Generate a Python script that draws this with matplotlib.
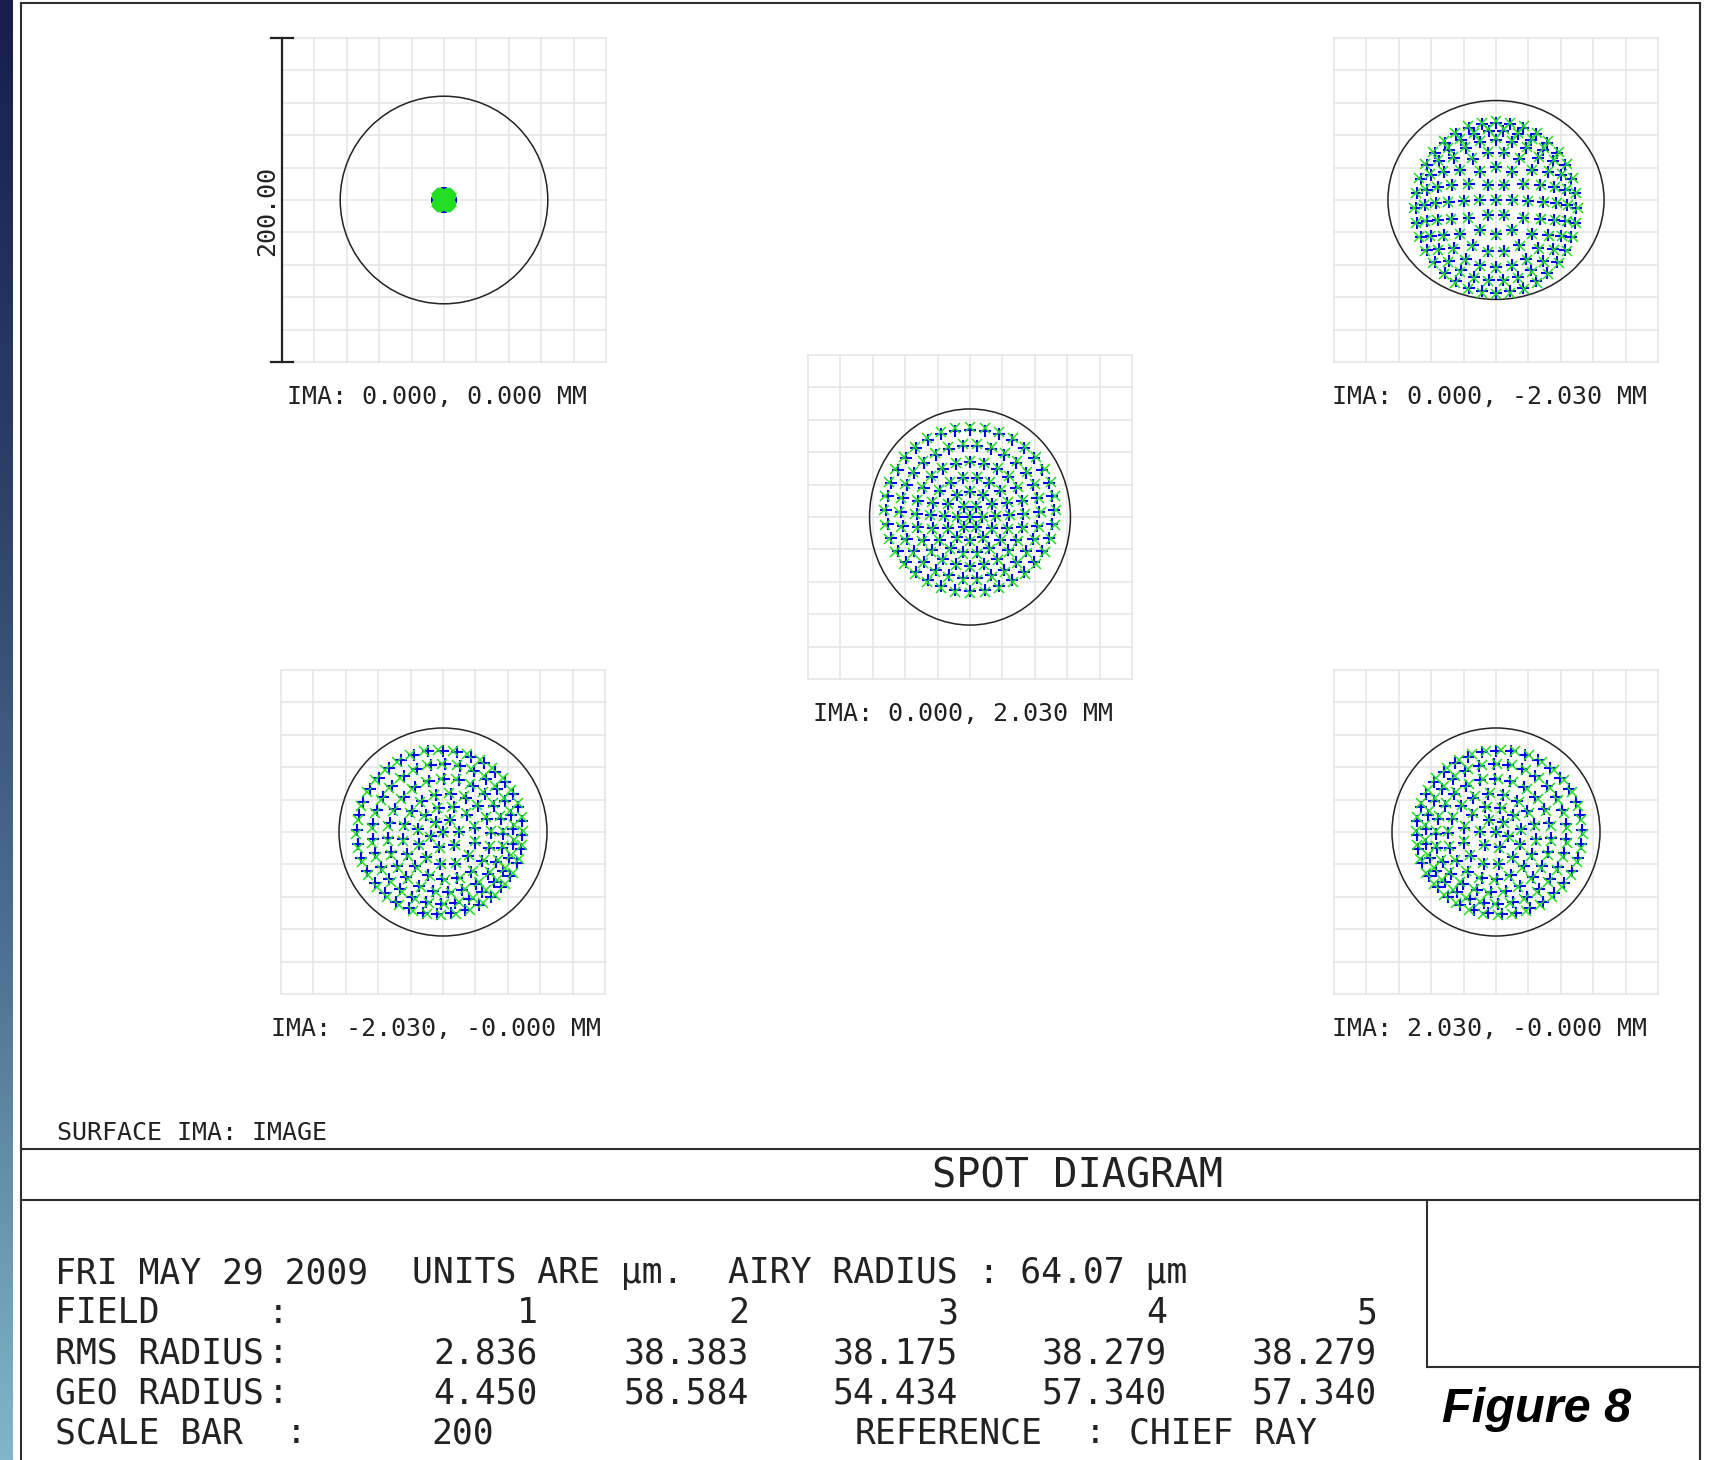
import numpy as np
import matplotlib
matplotlib.use("Agg")
import matplotlib.pyplot as plt
from matplotlib.patches import Ellipse
from matplotlib.colors import LinearSegmentedColormap

# ---------------------------------------------------------------- data
FIELD_LABELS = [
    "IMA: 0.000, 0.000 MM",
    "IMA: 0.000, -2.030 MM",
    "IMA: 0.000, 2.030 MM",
    "IMA: -2.030, -0.000 MM",
    "IMA: 2.030, -0.000 MM",
]
FIELD_NUMBERS = ["1", "2", "3", "4", "5"]
RMS_RADIUS = ["2.836", "38.383", "38.175", "38.279", "38.279"]
GEO_RADIUS = ["4.450", "58.584", "54.434", "57.340", "57.340"]
SCALE_BAR = 200.0          # micrometres
AIRY_RADIUS = 64.07        # micrometres

# Airy ellipse semi-axes per field (um)
AIRY_RX = [64.07, 66.7, 62.0, 64.2, 64.2]
AIRY_RY = [64.07, 61.4, 66.7, 64.2, 64.2]

# hexapolar pupil sampling: rays per ring (ring 0 = chief ray)
RING_RAYS = [1, 6, 12, 18, 24, 30, 36]

# image-plane size of each pupil ring, per field (um)
RING_RX = [
    [0, 0.7, 1.4, 2.2, 2.9, 3.6, 4.3],
    [0, 10.0, 19.5, 28.8, 37.0, 43.7, 49.4],
    [0, 7.5, 15.5, 24.0, 33.0, 42.5, 51.6],
    [0, 9.0, 18.0, 27.0, 35.5, 43.5, 51.0],
    [0, 9.0, 18.0, 27.0, 35.5, 43.5, 51.0],
]
RING_RY = [
    [0, 0.7, 1.4, 2.2, 2.9, 3.6, 4.3],
    [0, 10.6, 20.7, 30.5, 39.3, 46.3, 52.4],
    [0, 7.3, 15.0, 23.2, 31.9, 41.0, 49.8],
    [0, 9.0, 18.0, 26.5, 35.0, 43.0, 50.5],
    [0, 9.0, 18.0, 26.5, 35.0, 43.0, 50.5],
]
# ring centre offsets (um)
RING_CX = [
    [0, 0, 0, 0, 0, 0, 0],
    [0, 0, 0, 0, 0, 0, 0],
    [0, 0, 0, 0, 0, 0, 0],
    [0, 1.2, 2.2, 2.4, 1.6, 0.0, -1.9],
    [0, -1.2, -2.2, -2.4, -1.6, 0.0, 1.9],
]
RING_CY = [
    [0, 0, 0, 0, 0, 0, 0],
    [0, -0.1, -0.5, -1.2, -2.1, -3.3, -4.8],
    [0, 0.1, 0.5, 1.0, 1.9, 2.9, 4.2],
    [0, -1.2, -2.2, -2.6, -2.2, -1.2, -0.3],
    [0, -1.2, -2.2, -2.6, -2.2, -1.2, -0.3],
]
# ring rotation (deg)
RING_TWIST = [
    [0, 0, 0, 0, 0, 0, 0],
    [0, 0, 0, 0, 0, 0, 0],
    [0, 0, 0, 0, 0, 0, 0],
    [0, 8, 16, 24, 32, 40, 48],
    [0, -8, -16, -24, -32, -40, -48],
]
# second wavelength relative to the first
GREEN_SCALE = [1.0, 1.02, 1.03, 1.01, 1.01]
GREEN_TWIST = [0, 0, 0, 3, -3]

# ---------------------------------------------------------------- layout
W, H = 1722, 1460
PANELS = [  # left, top, size (px)
    (282, 38, 324),
    (1334, 38, 324),
    (808, 355, 324),
    (281, 670, 324),
    (1334, 670, 324),
]
INK = "#222222"
FRAME = "#2e2e2e"
GRID = "#e4e4e4"
BLUE = "#0000ff"
GREEN = "#22dd22"
MONO = "DejaVu Sans Mono"

fig = plt.figure(figsize=(W / 100, H / 100), dpi=100)
base = fig.add_axes([0, 0, 1, 1])
base.set_xlim(0, W)
base.set_ylim(H, 0)
base.axis("off")

# side strip
strip = LinearSegmentedColormap.from_list(
    "strip", ["#161e4c", "#2c4068", "#4f7392", "#80b6c8"])
grad = np.linspace(0, 1, 256).reshape(-1, 1)
base.imshow(grad, cmap=strip, aspect="auto", extent=(0, 13, H, 0),
            interpolation="bilinear", zorder=0)

# frame
lw_frame = 1.5
base.plot([21, 21], [3, H], color=FRAME, lw=lw_frame)
base.plot([21, 1700], [3, 3], color=FRAME, lw=lw_frame)
base.plot([1700, 1700], [3, H], color=FRAME, lw=lw_frame)
base.plot([21, 1700], [1149, 1149], color=FRAME, lw=lw_frame)
base.plot([21, 1700], [1200, 1200], color=FRAME, lw=lw_frame)
base.plot([1427, 1427], [1200, 1367], color=FRAME, lw=lw_frame)
base.plot([1427, 1700], [1367, 1367], color=FRAME, lw=lw_frame)


def ring_points(f, scale=1.0, twist_extra=0.0):
    xs, ys = [], []
    for k, n in enumerate(RING_RAYS):
        th = 2 * np.pi * np.arange(n) / n + np.deg2rad(RING_TWIST[f][k] + twist_extra)
        xs.append(RING_CX[f][k] + scale * RING_RX[f][k] * np.cos(th))
        ys.append(RING_CY[f][k] + scale * RING_RY[f][k] * np.sin(th))
    return np.concatenate(xs), np.concatenate(ys)


half = SCALE_BAR / 2
for f, (left, top, size) in enumerate(PANELS):
    ax = fig.add_axes([left / W, 1 - (top + size) / H, size / W, size / H])
    ax.set_xlim(-half, half)
    ax.set_ylim(-half, half)
    ax.axis("off")
    for v in np.arange(-half, half + 1, SCALE_BAR / 10):
        ax.plot([v, v], [-half, half], color=GRID, lw=1.1, clip_on=False, zorder=1)
        ax.plot([-half, half], [v, v], color=GRID, lw=1.1, clip_on=False, zorder=1)
    ax.add_patch(Ellipse((0, 0), 2 * AIRY_RX[f], 2 * AIRY_RY[f], fill=False,
                         ec=INK, lw=1.1, zorder=2))
    bx, by = ring_points(f)
    gx, gy = ring_points(f, GREEN_SCALE[f], GREEN_TWIST[f])
    ax.plot(bx, by, ls="none", marker="+", ms=8.0, mew=1.5, color=BLUE, zorder=3)
    ax.plot(gx, gy, ls="none", marker="x", ms=7.2, mew=1.1, color=GREEN, zorder=4)
    if f == 0:
        ax.plot([-half, -half], [-half, half], color=INK, lw=1.6, clip_on=False, zorder=5)
        for yv in (-half, half):
            ax.plot([-half - 7, -half + 7], [yv, yv], color=INK, lw=1.6,
                    clip_on=False, zorder=5)
    base.text(left + size / 2 - 7, top + size + 35, FIELD_LABELS[f], family=MONO,
              fontsize=18, color=INK, ha="center", va="center")

base.text(267, 211, f"{SCALE_BAR:.2f}", family=MONO, fontsize=18, color=INK,
          rotation=90, ha="center", va="center")

# footer text
base.text(57, 1133, "SURFACE IMA: IMAGE", family=MONO, fontsize=18, color=INK,
          ha="left", va="center")
base.text(1077, 1176, "SPOT DIAGRAM", family=MONO, fontsize=29, color=INK,
          ha="center", va="center")

TS = 25
rows_y = [1273, 1313, 1353, 1393, 1433]
base.text(55, rows_y[0], "FRI MAY 29 2009", family=MONO, fontsize=TS, color=INK, va="center")
base.text(412, rows_y[0], "UNITS ARE µm.", family=MONO, fontsize=TS, color=INK, va="center")
base.text(728, rows_y[0], f"AIRY RADIUS : {AIRY_RADIUS:.2f} µm", family=MONO,
          fontsize=TS, color=INK, va="center")

col_right = [538, 749, 958, 1167, 1377]
for y, name, vals in zip(rows_y[1:4], ["FIELD", "RMS RADIUS", "GEO RADIUS"],
                         [FIELD_NUMBERS, RMS_RADIUS, GEO_RADIUS]):
    base.text(55, y, name, family=MONO, fontsize=TS, color=INK, va="center")
    base.text(278, y, ":", family=MONO, fontsize=TS, color=INK, ha="center", va="center")
    for xr, v in zip(col_right, vals):
        base.text(xr, y, v, family=MONO, fontsize=TS, color=INK, ha="right", va="center")

base.text(55, rows_y[4], "SCALE BAR", family=MONO, fontsize=TS, color=INK, va="center")
base.text(296, rows_y[4], ":", family=MONO, fontsize=TS, color=INK, ha="center", va="center")
base.text(494, rows_y[4], f"{SCALE_BAR:.0f}", family=MONO, fontsize=TS, color=INK,
          ha="right", va="center")
base.text(855, rows_y[4], "REFERENCE", family=MONO, fontsize=TS, color=INK, va="center")
base.text(1095, rows_y[4], ":", family=MONO, fontsize=TS, color=INK, ha="center", va="center")
base.text(1129, rows_y[4], "CHIEF RAY", family=MONO, fontsize=TS, color=INK, va="center")

base.text(1442, 1409, "Figure 8", family="Liberation Sans", fontsize=35,
          fontweight="bold", fontstyle="italic", color="black", ha="left", va="center")

fig.savefig("out.png", dpi=100)
